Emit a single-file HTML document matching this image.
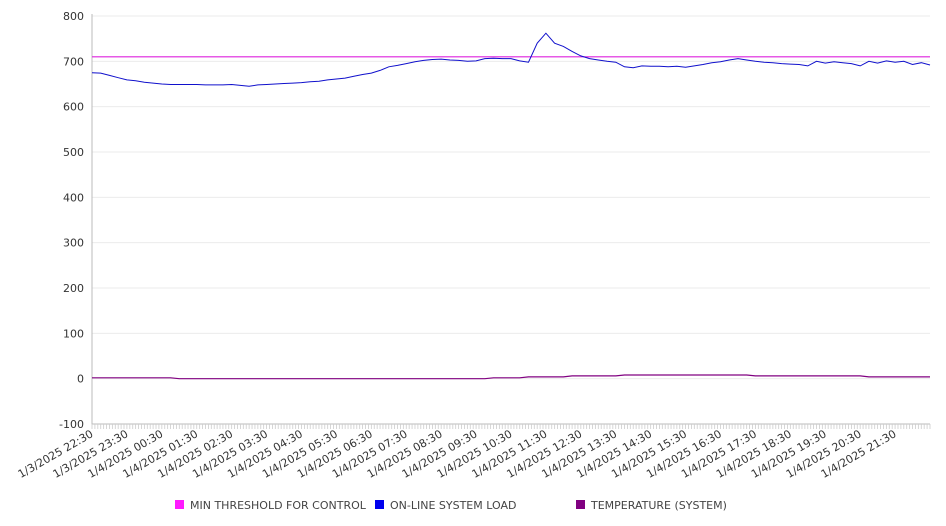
<!DOCTYPE html>
<html><head><meta charset="utf-8"><style>
html,body{margin:0;padding:0;background:#fff;width:946px;height:526px;overflow:hidden}
svg{display:block;font-family:"DejaVu Sans","Liberation Sans",sans-serif}
</style></head><body>
<svg id="chart" width="946" height="526" xmlns="http://www.w3.org/2000/svg">
<g id="grid"></g>
<g id="yaxis"></g>
<g id="xaxis"></g>
<g id="series"></g>
<g id="legend"></g>
</svg>
<script>
const yTicks = [800,700,600,500,400,300,200,100,0,-100];
const xLabels = ["1/3/2025 22:30","1/3/2025 23:30","1/4/2025 00:30","1/4/2025 01:30","1/4/2025 02:30","1/4/2025 03:30","1/4/2025 04:30","1/4/2025 05:30","1/4/2025 06:30","1/4/2025 07:30","1/4/2025 08:30","1/4/2025 09:30","1/4/2025 10:30","1/4/2025 11:30","1/4/2025 12:30","1/4/2025 13:30","1/4/2025 14:30","1/4/2025 15:30","1/4/2025 16:30","1/4/2025 17:30","1/4/2025 18:30","1/4/2025 19:30","1/4/2025 20:30","1/4/2025 21:30"];
const threshold = 710;
const loadValues = [675,674,669,664,659,657,654,652,650,649,649,649,649,648,648,648,649,647,645,648,649,650,651,652,653,655,656,659,661,663,667,671,674,680,688,691,695,699,702,704,705,703,702,700,701,706,707,706,706,701,698,740,762,740,733,722,712,706,703,700,698,688,686,690,689,689,688,689,687,690,693,697,699,703,706,703,700,698,697,695,694,693,690,700,696,699,697,695,690,700,696,701,698,700,693,697,692];
const tempValues = [2,2,2,2,2,2,2,2,2,2,0,0,0,0,0,0,0,0,0,0,0,0,0,0,0,0,0,0,0,0,0,0,0,0,0,0,0,0,0,0,0,0,0,0,0,0,2,2,2,2,4,4,4,4,4,6,6,6,6,6,6,8,8,8,8,8,8,8,8,8,8,8,8,8,8,8,6,6,6,6,6,6,6,6,6,6,6,6,6,4,4,4,4,4,4,4,4];
const stepMinutes = 15;

const X0=92, X1=930, Y0=16, Y1=424, YMIN=-100, YMAX=800, TOTALMIN=1440;
const xScale = m => X0 + m/TOTALMIN*(X1-X0);
const yScale = v => Y1 - (v-YMIN)/(YMAX-YMIN)*(Y1-Y0);
const NS="http://www.w3.org/2000/svg";
function mk(tag, parent){const e=document.createElementNS(NS,tag);parent.appendChild(e);return e;}
const grid=document.getElementById('grid'), ya=document.getElementById('yaxis'), xa=document.getElementById('xaxis'), se=document.getElementById('series'), lg=document.getElementById('legend');

yTicks.forEach(v=>{
  const y=yScale(v);
  const l=mk('line',grid);
  
  
  l.setAttribute('x1',X0);l.setAttribute('x2',X1);l.setAttribute('y1',y);l.setAttribute('y2',y);
  l.setAttribute('stroke','#ebebeb');l.setAttribute('stroke-width','1');
  const t=mk('text',ya);
  
  
  t.setAttribute('x',84);t.setAttribute('y',y+4);t.setAttribute('text-anchor','end');
  t.setAttribute('font-size','11');t.setAttribute('fill','#333');t.textContent=String(v);
});
const ax=mk('path',ya);


ax.setAttribute('d',`M${X0},${Y0-2}V${Y1}H${X1}`);ax.setAttribute('stroke','#bbb');ax.setAttribute('fill','none');

for(let m=0;m<=TOTALMIN;m+=5){
  const x=xScale(m);
  const t=mk('line',xa);
  
  
  t.setAttribute('x1',x);t.setAttribute('x2',x);t.setAttribute('y1',Y1);t.setAttribute('y2',Y1+5);
  t.setAttribute('stroke','#ccc');t.setAttribute('stroke-width','0.8');
}
xLabels.forEach((s,i)=>{
  const x=xScale(i*60);
  const t=mk('text',xa);
  
  
  t.setAttribute('transform',`translate(${x+2},${Y1+12}) rotate(-30)`);
  t.setAttribute('text-anchor','end');t.setAttribute('font-size','11');t.setAttribute('fill','#333');
  t.textContent=s;
});

function linePath(vals){return vals.map((v,i)=>(i?'L':'M')+xScale(i*stepMinutes).toFixed(1)+','+yScale(v).toFixed(1)).join('');}
const th=mk('line',se);


th.setAttribute('x1',X0);th.setAttribute('x2',X1);th.setAttribute('y1',yScale(threshold));th.setAttribute('y2',yScale(threshold));
th.setAttribute('stroke','#dd22dd');th.setAttribute('stroke-width','1.2');
const tp=mk('path',se);


tp.setAttribute('d',linePath(tempValues));tp.setAttribute('stroke','#800080');tp.setAttribute('fill','none');tp.setAttribute('stroke-width','1.2');
const lp=mk('path',se);


lp.setAttribute('d',linePath(loadValues));lp.setAttribute('stroke','#1010cc');lp.setAttribute('fill','none');lp.setAttribute('stroke-width','1');

const legendItems=[["MIN THRESHOLD FOR CONTROL","#ff1aff",175],["ON-LINE SYSTEM LOAD","#0000ee",375],["TEMPERATURE (SYSTEM)","#800080",576]];
legendItems.forEach(([label,color,x])=>{
  const r=mk('rect',lg);
  
  
  r.setAttribute('x',x);r.setAttribute('y',500);r.setAttribute('width',9);r.setAttribute('height',9);r.setAttribute('fill',color);
  const t=mk('text',lg);
  
  
  t.setAttribute('x',x+15);t.setAttribute('y',509);t.setAttribute('font-size','11');t.setAttribute('fill','#444');
  t.textContent=label;
});
</script>
</body></html>
